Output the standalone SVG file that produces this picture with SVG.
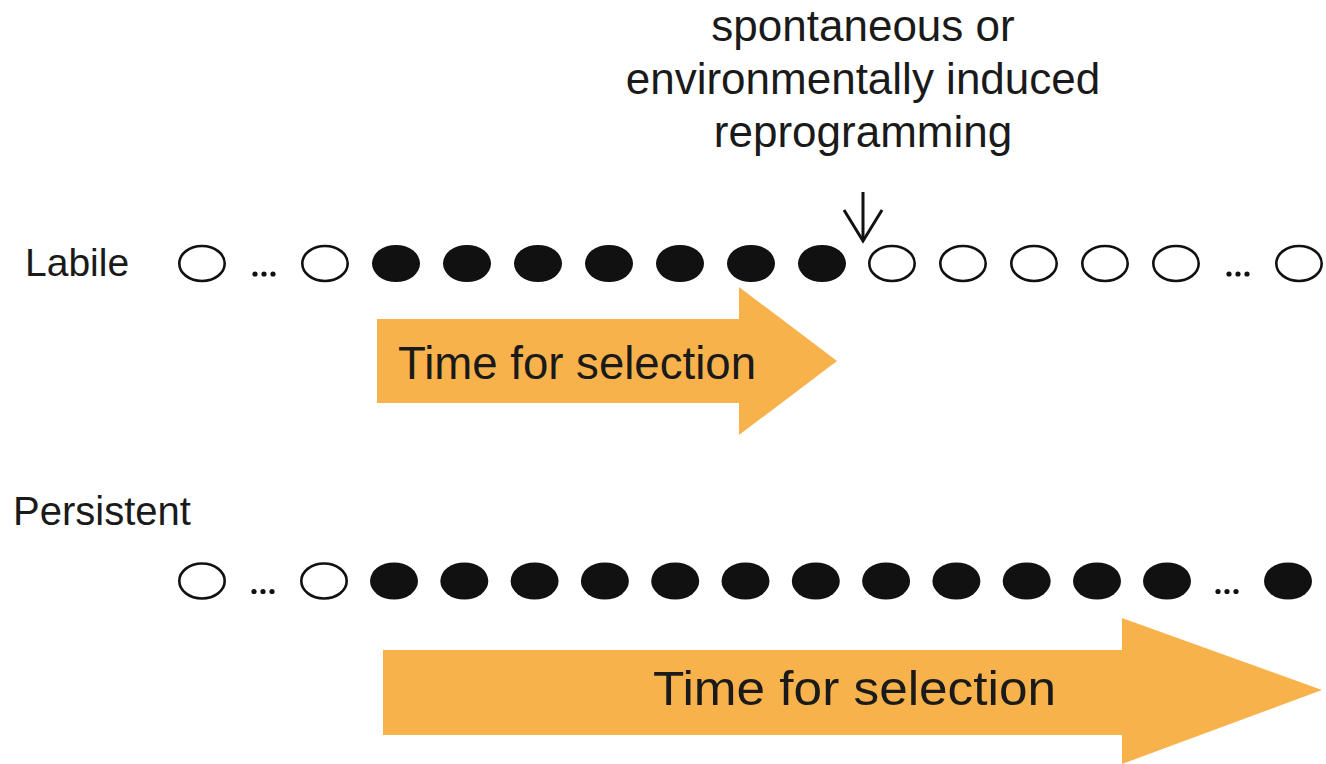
<svg xmlns="http://www.w3.org/2000/svg" width="1326" height="764" viewBox="0 0 1326 764">
<style>
.t{font-family:"Liberation Sans",Arial,sans-serif;fill:#1a1a1a}
.o{fill:#fff;stroke:#111;stroke-width:2.6}
.f{fill:#111}
.d{fill:#111}
.ar{fill:#F8B24C}
.ln{fill:none;stroke:#111;stroke-width:3}
</style>
<rect width="1326" height="764" fill="#fff"/>
<g id="reprogramming-label">
<text class="t" x="863" y="41" font-size="44" text-anchor="middle">spontaneous or</text>
<text class="t" x="863" y="94" font-size="44" text-anchor="middle">environmentally induced</text>
<text class="t" x="863" y="147" font-size="44" text-anchor="middle">reprogramming</text>
</g>
<g id="connectors">
<line class="ln" x1="863" y1="192" x2="863" y2="240"/>
<polyline class="ln" points="844,210 863,241 882,210"/>
</g>
<g id="labile-label"><text class="t" x="25" y="276" font-size="39">Labile</text></g>
<g id="labile-row">
<ellipse class="o" cx="202" cy="263.5" rx="22.7" ry="17.5"/>
<circle class="d" cx="255" cy="274" r="2.6"/><circle class="d" cx="264" cy="274" r="2.6"/><circle class="d" cx="273" cy="274" r="2.6"/>
<ellipse class="o" cx="325" cy="263.5" rx="22.7" ry="17.5"/>
<ellipse class="f" cx="396" cy="263.5" rx="24" ry="18.6"/>
<ellipse class="f" cx="467" cy="263.5" rx="24" ry="18.6"/>
<ellipse class="f" cx="538" cy="263.5" rx="24" ry="18.6"/>
<ellipse class="f" cx="609" cy="263.5" rx="24" ry="18.6"/>
<ellipse class="f" cx="680" cy="263.5" rx="24" ry="18.6"/>
<ellipse class="f" cx="751" cy="263.5" rx="24" ry="18.6"/>
<ellipse class="f" cx="822" cy="263.5" rx="24" ry="18.6"/>
<ellipse class="o" cx="892" cy="263.5" rx="22.7" ry="17.5"/>
<ellipse class="o" cx="963" cy="263.5" rx="22.7" ry="17.5"/>
<ellipse class="o" cx="1034" cy="263.5" rx="22.7" ry="17.5"/>
<ellipse class="o" cx="1105" cy="263.5" rx="22.7" ry="17.5"/>
<ellipse class="o" cx="1176" cy="263.5" rx="22.7" ry="17.5"/>
<circle class="d" cx="1229" cy="274" r="2.6"/><circle class="d" cx="1238" cy="274" r="2.6"/><circle class="d" cx="1247" cy="274" r="2.6"/>
<ellipse class="o" cx="1299" cy="263.5" rx="22.7" ry="17.5"/>
</g>
<g id="labile-arrow">
<polygon class="ar" points="377,319 739,319 739,287 837,361 739,435 739,403 377,403"/>
<text class="t" x="398" y="379" font-size="47" textLength="358" lengthAdjust="spacingAndGlyphs">Time for selection</text>
</g>
<g id="persistent-label"><text class="t" x="13" y="525" font-size="40">Persistent</text></g>
<g id="persistent-row">
<ellipse class="o" cx="202" cy="581" rx="22.7" ry="17.5"/>
<circle class="d" cx="254" cy="591.5" r="2.6"/><circle class="d" cx="263" cy="591.5" r="2.6"/><circle class="d" cx="272" cy="591.5" r="2.6"/>
<ellipse class="o" cx="324" cy="581" rx="22.7" ry="17.5"/>
<ellipse class="f" cx="394" cy="581" rx="24" ry="18.6"/>
<ellipse class="f" cx="464.3" cy="581" rx="24" ry="18.6"/>
<ellipse class="f" cx="534.6" cy="581" rx="24" ry="18.6"/>
<ellipse class="f" cx="604.9" cy="581" rx="24" ry="18.6"/>
<ellipse class="f" cx="675.2" cy="581" rx="24" ry="18.6"/>
<ellipse class="f" cx="745.5" cy="581" rx="24" ry="18.6"/>
<ellipse class="f" cx="815.8" cy="581" rx="24" ry="18.6"/>
<ellipse class="f" cx="886.1" cy="581" rx="24" ry="18.6"/>
<ellipse class="f" cx="956.4" cy="581" rx="24" ry="18.6"/>
<ellipse class="f" cx="1026.7" cy="581" rx="24" ry="18.6"/>
<ellipse class="f" cx="1097" cy="581" rx="24" ry="18.6"/>
<ellipse class="f" cx="1167" cy="581" rx="24" ry="18.6"/>
<circle class="d" cx="1218" cy="591.5" r="2.6"/><circle class="d" cx="1227" cy="591.5" r="2.6"/><circle class="d" cx="1236" cy="591.5" r="2.6"/>
<ellipse class="f" cx="1288" cy="581" rx="24" ry="18.6"/>
</g>
<g id="persistent-arrow">
<polygon class="ar" points="383,650 1122,650 1122,618 1322,690 1122,764 1122,735 383,735"/>
<text class="t" x="653" y="705" font-size="48" textLength="403" lengthAdjust="spacingAndGlyphs">Time for selection</text>
</g>
</svg>
